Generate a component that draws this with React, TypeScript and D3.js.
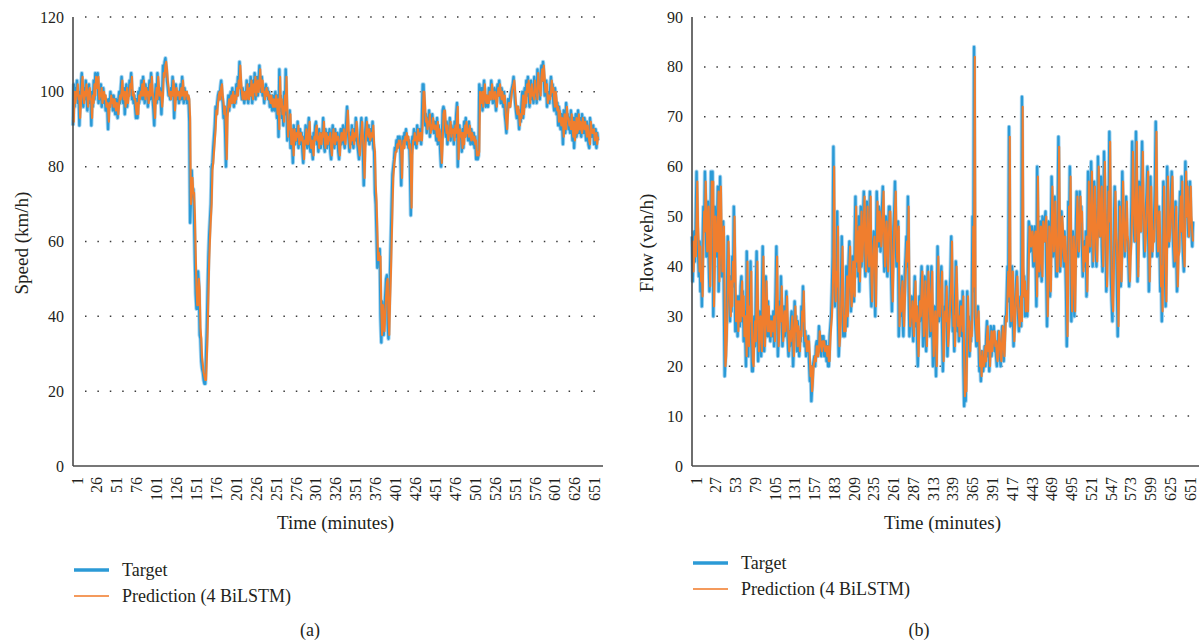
import React from 'react';
import * as d3 from 'd3';

// Speed (km/h) per minute, panel (a)
const speedTarget = [
  91,102,96,101,99,103,97,100,91,98,102,105,99,96,101,98,103,99,95,100,
  102,97,99,91,100,96,103,98,105,104,101,105,97,100,98,102,96,99,101,97,
  99,95,98,96,90,98,96,100,97,99,95,99,97,94,98,96,93,98,100,97,
  101,104,99,97,101,94,99,102,96,100,99,103,101,105,98,100,97,99,96,93,
  98,93,100,97,101,99,103,98,104,100,97,102,99,101,96,100,103,98,105,100,
  98,95,91,99,102,97,105,100,98,101,99,94,100,107,104,108,109,106,103,101,
  99,100,98,101,99,104,101,93,99,102,98,100,100,97,99,102,98,104,100,97,
  101,98,100,97,99,98,92,65,71,79,72,74,66,55,46,42,42,52,48,35,
  34,28,26,25,23,22,22,30,37,47,56,62,66,70,80,81,85,88,91,96,
  94,97,99,100,98,101,103,99,97,93,96,89,80,94,96,99,95,98,100,97,
  101,98,96,100,97,102,99,104,101,108,103,100,98,101,99,97,100,98,103,99,
  97,102,99,104,100,97,103,99,105,98,101,104,99,103,107,102,100,104,99,101,
  97,100,102,99,101,98,100,96,99,97,95,99,96,95,100,97,93,99,88,106,
  95,99,93,97,91,100,94,106,96,87,92,89,95,85,90,87,81,91,88,86,
  90,87,92,85,88,90,86,89,84,81,88,86,91,87,85,89,93,86,84,88,
  85,82,89,87,91,92,86,88,84,90,87,85,89,88,93,86,84,90,88,85,
  89,86,90,84,82,88,91,87,85,90,86,88,89,84,82,87,90,86,88,91,
  87,85,89,92,96,90,87,84,89,86,91,88,85,90,87,93,89,86,84,82,
  87,90,93,88,83,75,86,90,93,89,87,91,86,88,90,87,92,85,84,73,
  70,62,53,58,55,58,40,33,44,38,35,42,46,50,51,38,34,45,52,61,
  70,78,80,82,85,84,87,85,88,86,88,84,75,86,88,85,89,87,90,86,
  88,85,87,80,67,84,88,87,90,86,89,85,91,88,87,90,89,86,93,102,
  102,95,91,94,89,93,91,95,88,92,90,94,91,89,92,90,87,93,86,91,
  89,84,80,87,95,96,95,90,88,92,86,90,89,93,87,91,89,90,86,92,
  88,94,97,80,89,91,88,89,84,90,85,92,88,93,89,90,87,92,89,86,
  90,88,86,89,85,88,82,84,82,83,102,99,97,101,95,100,103,98,96,99,
  97,96,101,99,98,103,100,97,99,101,98,95,100,102,99,103,100,97,101,98,
  96,100,94,92,89,95,98,97,96,99,100,101,102,104,100,97,95,93,96,94,
  90,95,92,97,100,93,98,101,96,103,99,104,100,96,101,103,98,100,97,104,
  99,101,97,106,100,102,98,105,107,103,108,104,99,101,103,96,100,98,97,101,
  104,99,102,97,95,101,98,94,97,91,96,93,90,94,92,86,95,93,89,97,
  92,94,90,93,89,95,91,87,93,85,90,94,88,91,95,89,93,90,88,94,
  91,89,93,90,87,92,89,86,85,93,90,88,89,91,86,88,90,85,89,87,
];

const speedPred = [
  93,92,100,97,100,99,102,98,99,93,97,101,104,99,97,100,99,102,99,96,
  100,101,98,98,93,99,97,102,99,104,103,101,104,98,99,99,101,97,99,100,
  98,99,96,97,96,92,97,96,99,97,98,96,98,97,95,97,96,94,97,99,
  98,100,103,99,98,100,96,98,101,97,99,99,102,101,104,99,100,98,98,96,
  94,97,94,99,98,100,99,102,99,103,100,98,101,99,100,97,99,102,99,104,
  100,98,96,93,98,101,98,104,101,99,100,99,96,99,105,104,107,108,106,103,
  101,99,100,98,100,99,103,101,95,98,101,99,100,100,98,99,101,99,103,100,
  98,100,99,100,98,99,98,93,70,72,77,73,73,67,57,48,43,43,50,47,
  37,34,29,27,25,24,23,23,29,36,46,55,61,66,70,79,81,84,87,90,
  95,94,97,99,100,98,101,102,99,97,94,96,90,82,93,96,98,96,98,99,
  97,100,98,97,99,98,101,99,103,101,107,103,100,98,100,99,98,100,98,102,
  99,98,101,99,103,100,98,102,100,104,99,101,103,100,102,106,102,100,103,100,
  100,98,100,101,99,100,98,99,97,99,97,96,98,96,96,99,97,94,98,90,
  104,96,98,94,96,92,99,95,104,96,88,92,90,94,86,90,87,83,90,88,
  87,89,88,91,86,88,89,87,88,85,82,87,86,90,87,86,89,92,87,85,
  87,85,83,88,87,90,91,87,88,85,89,87,86,89,88,92,87,85,89,88,
  86,88,87,89,85,83,87,90,87,86,89,87,88,88,85,83,87,89,87,88,
  90,87,86,89,91,95,90,87,85,88,87,90,88,86,89,88,92,89,86,85,
  83,86,89,92,88,84,77,85,89,92,89,88,90,87,88,89,88,91,86,84,
  75,71,63,55,57,55,56,42,35,43,39,36,41,45,49,50,40,35,44,51,
  60,69,77,80,82,84,84,86,85,87,86,87,84,77,85,87,85,88,87,89,
  87,88,85,86,80,69,83,87,87,89,87,88,86,90,88,87,89,89,87,92,
  100,100,96,92,93,90,92,91,94,89,91,90,93,91,90,91,90,88,92,87,
  90,89,85,81,86,94,95,95,91,89,91,87,89,89,92,88,90,89,90,87,
  91,89,93,96,82,88,90,88,89,85,89,86,91,88,92,89,90,88,91,89,
  87,89,88,87,88,86,87,83,84,83,84,100,99,97,100,96,99,102,98,97,
  99,97,97,100,99,98,102,100,98,99,100,98,96,99,101,99,102,100,98,100,
  98,97,99,95,92,90,94,97,97,96,98,100,101,102,103,100,97,95,94,96,
  94,91,94,93,96,99,94,97,100,97,102,100,103,100,97,100,102,99,99,98,
  103,100,100,98,105,101,101,99,104,106,103,107,104,100,101,102,97,99,98,98,
  100,103,100,101,98,96,100,98,95,96,92,95,93,91,93,92,88,94,92,90,
  96,93,93,91,92,90,94,91,88,92,87,89,93,89,90,94,90,92,90,89,
  93,91,90,92,90,88,91,89,87,86,92,90,89,89,90,87,88,89,86,88,
];

// Flow (veh/h) per minute, panel (b)
const flowTarget = [
  46,37,44,47,41,50,59,48,43,38,45,35,40,32,45,52,47,59,51,42,
  48,53,41,35,44,59,50,59,30,40,52,45,42,49,56,35,44,58,47,38,
  43,49,33,18,22,26,34,46,40,33,29,38,31,42,36,52,40,27,31,34,
  26,34,30,28,36,38,29,35,25,31,27,20,43,30,22,33,28,41,25,19,
  19,27,30,24,35,43,30,21,26,31,28,22,33,44,30,23,29,38,31,26,
  33,26,30,25,30,28,26,31,24,29,35,44,31,22,27,33,29,38,30,24,
  28,32,26,30,35,29,25,22,27,24,29,31,26,20,25,33,27,30,23,29,
  26,22,27,25,32,29,36,28,24,27,22,25,23,26,21,17,20,13,16,20,
  21,22,20,24,25,22,23,28,25,24,22,26,24,26,22,23,25,21,24,20,
  20,26,28,30,35,42,64,38,32,40,35,51,30,22,26,30,37,46,32,26,
  30,26,33,40,28,35,41,45,36,31,35,42,39,33,45,54,40,48,38,50,
  35,45,52,40,45,49,55,42,38,46,53,44,39,48,55,37,32,40,44,47,
  38,30,42,55,47,44,52,50,43,48,52,56,45,39,46,50,42,38,47,52,
  52,44,38,31,40,48,51,57,45,40,45,49,26,33,30,35,38,30,26,34,
  39,42,46,40,54,35,26,30,29,34,28,25,32,38,28,32,26,20,28,34,
  29,36,40,31,24,30,38,28,23,33,40,35,30,26,36,40,28,20,27,32,
  25,18,30,44,35,29,33,37,40,28,19,26,32,29,37,30,22,27,30,35,
  38,46,33,27,30,23,32,41,34,27,30,25,29,33,30,26,35,20,12,16,
  13,25,35,28,30,22,27,25,31,50,35,84,30,27,24,29,32,25,19,22,
  17,23,20,19,21,24,20,26,29,22,25,19,24,28,22,25,27,28,23,25,
  22,20,24,27,25,22,20,25,28,24,21,26,30,29,34,40,33,68,35,28,
  33,40,31,24,29,33,36,39,32,30,27,31,34,28,74,40,34,38,30,35,
  35,30,41,49,48,43,45,48,44,40,46,48,42,32,60,45,38,44,49,41,
  37,50,46,45,49,51,39,28,40,49,44,34,45,58,50,42,47,54,45,38,
  38,50,66,46,39,44,51,47,43,40,47,42,35,24,40,53,46,60,41,29,
  39,47,42,30,41,48,55,50,42,46,55,49,52,44,38,43,45,40,47,34,
  45,59,50,43,49,61,52,40,46,57,51,44,40,48,62,53,46,50,58,44,
  39,47,63,52,45,35,44,56,49,67,50,38,33,29,40,48,56,47,44,36,
  26,40,53,46,36,43,59,50,47,42,48,54,46,45,41,36,42,45,52,65,
  55,49,45,54,67,50,37,46,57,52,47,55,65,53,48,42,46,51,55,60,
  48,35,44,58,49,42,47,45,51,57,69,50,42,48,52,44,35,40,29,45,
  57,48,40,32,45,60,52,44,47,50,55,59,48,44,40,46,53,43,35,42,
  43,50,55,47,58,46,42,39,52,61,50,57,49,46,52,57,50,47,44,49,
];

const flowPred = [
  44,45,39,43,46,42,49,57,48,44,39,44,37,39,34,44,51,47,57,51,
  43,47,52,42,36,43,57,50,57,32,40,50,45,43,48,55,37,44,56,47,
  39,42,48,34,20,22,27,34,45,40,34,30,37,32,41,37,50,40,29,31,
  33,27,33,30,29,35,37,30,34,26,30,27,22,41,30,24,32,29,39,26,
  21,20,26,29,25,34,41,30,23,26,30,28,23,32,42,30,24,29,37,31,
  27,32,27,29,26,29,28,27,30,25,29,34,42,31,24,27,32,29,36,30,
  25,28,31,27,30,34,29,26,23,27,25,28,30,26,22,25,32,27,29,24,
  28,26,23,27,26,31,29,35,28,25,26,23,25,23,25,22,18,20,15,17,
  20,21,22,21,24,24,22,23,27,25,24,23,25,24,25,23,23,24,22,24,
  21,21,25,28,30,34,41,60,39,33,39,36,48,31,24,26,30,36,44,33,
  27,30,27,33,38,30,35,40,44,36,32,35,41,38,34,44,52,41,47,39,
  48,37,44,51,41,45,48,54,43,39,45,52,44,40,47,54,38,33,40,44,
  46,39,32,42,53,47,45,51,49,44,47,51,55,45,40,46,49,43,39,46,
  51,51,45,39,33,40,47,51,55,46,41,45,48,28,33,31,35,37,31,28,
  33,38,42,45,41,52,36,28,30,30,33,29,26,32,37,29,32,27,22,28,
  33,30,35,39,32,26,30,37,29,24,32,39,35,31,27,35,39,29,22,27,
  31,26,20,30,42,35,30,33,36,39,29,21,26,31,29,36,30,24,27,30,
  34,37,45,34,28,30,24,32,40,34,28,30,26,29,32,30,27,34,22,14,
  16,15,25,34,28,29,23,27,26,31,48,36,82,31,27,25,29,31,25,20,
  22,18,23,20,20,21,24,21,26,28,23,25,20,24,27,23,25,27,27,24,
  25,22,21,24,27,25,22,21,25,28,24,22,26,30,29,34,39,34,66,35,
  29,33,39,31,25,29,33,36,38,32,30,28,31,34,29,72,40,34,37,31,
  35,35,31,41,48,47,44,45,47,44,41,46,47,42,34,58,45,39,44,48,
  41,38,49,46,45,48,50,40,30,40,48,44,35,45,56,49,43,47,53,45,
  39,39,49,64,46,40,44,50,47,43,41,46,42,35,26,40,52,46,58,41,
  31,39,46,42,31,41,47,54,49,43,46,54,49,51,44,39,43,44,41,46,
  35,44,57,49,44,49,59,51,41,46,56,50,44,41,48,60,52,46,50,56,
  45,40,47,61,51,45,36,44,55,49,65,49,39,33,31,40,48,55,47,44,
  37,28,40,52,46,37,43,57,50,47,43,48,53,46,45,41,37,42,45,51,
  63,55,49,45,53,65,50,38,46,56,52,47,54,63,53,48,43,46,51,55,
  59,48,37,44,56,49,43,47,45,50,56,67,50,43,48,51,44,36,40,31,
  44,56,48,41,33,45,58,52,45,47,50,54,58,48,44,41,46,52,43,36,
  42,43,49,54,47,57,46,43,40,51,59,50,56,49,46,51,56,50,47,45,
];

const speedTimeLabels = [1,26,51,76,101,126,151,176,201,226,251,276,301,326,351,376,401,426,451,476,501,526,551,576,601,626,651];
const flowTimeLabels = [1,27,53,79,105,131,157,183,209,235,261,287,313,339,365,391,417,443,469,495,521,547,573,599,625,651];
const speedTicks = [0,20,40,60,80,100,120];
const flowTicks = [0,10,20,30,40,50,60,70,80,90];

const BLUE = '#2b9ad6';
const ORANGE = '#f07e2e';
const TEXT = '#231f20';
const FONT = '"Liberation Serif", "DejaVu Serif", serif';

const TOP = 17, BOTTOM = 466;

function Panel(props: any) {
  const {target, pred, ticks, timeLabels, x0, x1, xEnd, yLabel, yLabelX, legendY, caption, captionX} = props;
  const n = target.length;
  const x = d3.scaleLinear().domain([1, n]).range([x0, x1]);
  const y = d3.scaleLinear().domain([0, d3.max(ticks) as number]).range([BOTTOM, TOP]);
  const line = d3.line<number>().x((d, i) => x(i + 1)).y(d => y(d));
  const midX = (x0 + x1) / 2;

  return (
    <g fontFamily={FONT} fill={TEXT}>
      {/* dotted grid */}
      {ticks.filter((t: number) => t > 0).map((t: number) => (
        <line key={'g' + t} x1={x0 + 12} x2={xEnd} y1={y(t)} y2={y(t)}
          stroke="#3a3a3a" strokeWidth={1.5} strokeDasharray="1.5 10.9" />
      ))}

      {/* series */}
      <path d={line(target) || ''} fill="none" stroke="#a9d6f1" strokeWidth={4.2} strokeLinejoin="round" />
      <path d={line(target) || ''} fill="none" stroke={BLUE} strokeWidth={2.4} strokeLinejoin="round" />
      <path d={line(pred) || ''} fill="none" stroke={ORANGE} strokeWidth={2.1} strokeLinejoin="round" />

      {/* axes */}
      <line x1={x0} x2={x0} y1={TOP} y2={BOTTOM} stroke="#4a4a4a" strokeWidth={1.6} />
      <line x1={x0} x2={xEnd} y1={BOTTOM} y2={BOTTOM} stroke="#4a4a4a" strokeWidth={1.6} />

      {ticks.map((t: number) => (
        <text key={'y' + t} x={x0 - 9} y={y(t)} textAnchor="end" dominantBaseline="central" fontSize={16}>{t}</text>
      ))}
      {timeLabels.map((v: number) => (
        <text key={'x' + v} transform={`translate(${x(v) + 4},477) rotate(-90)`} textAnchor="end"
          dominantBaseline="central" fontSize={16}>{v}</text>
      ))}

      <text x={midX} y={522} textAnchor="middle" dominantBaseline="central" fontSize={19}>Time (minutes)</text>
      <text transform={`translate(${yLabelX},243) rotate(-90)`} textAnchor="middle" dominantBaseline="central" fontSize={19}>{yLabel}</text>

      {/* legend */}
      <line x1={x0 + 1} x2={x0 + 36} y1={legendY} y2={legendY} stroke={BLUE} strokeWidth={3.5} />
      <text x={x0 + 49} y={legendY} dominantBaseline="central" fontSize={18}>Target</text>
      <line x1={x0 + 1} x2={x0 + 36} y1={legendY + 26} y2={legendY + 26} stroke="#f49a5c" strokeWidth={2.2} />
      <text x={x0 + 49} y={legendY + 26} dominantBaseline="central" fontSize={18}>Prediction (4 BiLSTM)</text>

      <text x={captionX} y={630} textAnchor="middle" dominantBaseline="central" fontSize={18}>{caption}</text>
    </g>
  );
}

export default function App() {
  return (
    <svg width={1199} height={644} viewBox="0 0 1199 644"
      style={{position: 'absolute', left: 0, top: 0, background: '#fff'}}>
      <Panel target={speedTarget} pred={speedPred} ticks={speedTicks} timeLabels={speedTimeLabels}
        x0={73} x1={598} xEnd={603} yLabel="Speed (km/h)" yLabelX={21} legendY={570}
        caption="(a)" captionX={310} />
      <Panel target={flowTarget} pred={flowPred} ticks={flowTicks} timeLabels={flowTimeLabels}
        x0={692} x1={1193} xEnd={1199} yLabel="Flow (veh/h)" yLabelX={646} legendY={563}
        caption="(b)" captionX={919} />
    </svg>
  );
}
